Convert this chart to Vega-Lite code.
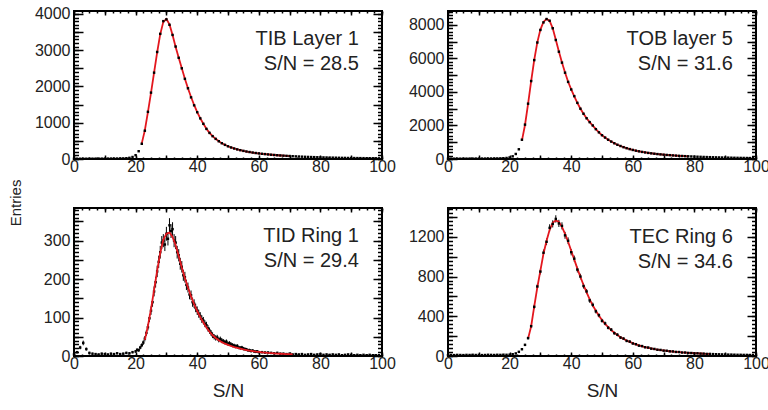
{
  "$schema": "https://vega.github.io/schema/vega-lite/v6.json",
  "padding": {"left": 9, "top": 5, "right": 5, "bottom": 5},
  "background": "white",
  "config": {
    "font": "Liberation Sans",
    "view": {"stroke": null},
    "axis": {"domain": false, "grid": false, "ticks": true, "zindex": 3, "tickColor": "black", "tickWidth": 1.5, "labelColor": "#222", "labelFont": "Liberation Sans", "labelFontSize": 16, "titleFont": "Liberation Sans", "titleFontSize": 19, "titleFontWeight": "normal", "titleColor": "#222", "labelFlush": false, "labelOverlap": false}
  },
  "title": {"text": "Entries", "orient": "left", "anchor": "middle", "fontSize": 15, "fontWeight": "normal", "font": "Liberation Sans", "color": "#222", "offset": 10},
  "datasets": {
    "tib": [
      {"u":0,"n":6},{"u":1,"n":8},{"u":2,"n":7},{"u":3,"n":9},{"u":4,"n":8},{"u":5,"n":10},{"u":6,"n":9},{"u":7,"n":10},{"u":8,"n":11},{"u":9,"n":10},
      {"u":10,"n":12},{"u":11,"n":11},{"u":12,"n":12},{"u":13,"n":13},{"u":14,"n":13},{"u":15,"n":15},{"u":16,"n":17},{"u":17,"n":22},{"u":18,"n":32},{"u":19,"n":55},
      {"u":20,"n":105},{"u":21,"n":215},{"u":22,"n":420,"fit":430},{"u":23,"n":780,"fit":790},{"u":24,"n":1300,"fit":1290},{"u":25,"n":1830,"fit":1820},{"u":26,"n":2380,"fit":2380},{"u":27,"n":2950,"fit":2940},{"u":28,"n":3450,"fit":3440},{"u":29,"n":3800,"fit":3780},
      {"u":30,"n":3850,"fit":3860},{"u":31,"n":3700,"fit":3710},{"u":32,"n":3420,"fit":3420},{"u":33,"n":3100,"fit":3090},{"u":34,"n":2790,"fit":2790},{"u":35,"n":2500,"fit":2500},{"u":36,"n":2210,"fit":2210},{"u":37,"n":1950,"fit":1950},{"u":38,"n":1700,"fit":1710},{"u":39,"n":1480,"fit":1490},
      {"u":40,"n":1290,"fit":1290},{"u":41,"n":1120,"fit":1120},{"u":42,"n":970,"fit":970},{"u":43,"n":830,"fit":835},{"u":44,"n":720,"fit":722},{"u":45,"n":630,"fit":632},{"u":46,"n":555,"fit":556},{"u":47,"n":490,"fit":491},{"u":48,"n":435,"fit":436},{"u":49,"n":390,"fit":391},
      {"u":50,"n":350,"fit":351},{"u":51,"n":318,"fit":318},{"u":52,"n":290,"fit":289},{"u":53,"n":265,"fit":264},{"u":54,"n":243,"fit":242},{"u":55,"n":224,"fit":223},{"u":56,"n":207,"fit":206},{"u":57,"n":192,"fit":191},{"u":58,"n":178,"fit":177},{"u":59,"n":165,"fit":164},
      {"u":60,"n":154,"fit":153},{"u":61,"n":144,"fit":143},{"u":62,"n":135,"fit":134},{"u":63,"n":126,"fit":125},{"u":64,"n":118,"fit":117},{"u":65,"n":111,"fit":110},{"u":66,"n":104,"fit":103},{"u":67,"n":98,"fit":97},{"u":68,"n":92,"fit":91},{"u":69,"n":87,"fit":86},
      {"u":70,"n":82,"fit":81},{"u":71,"n":77},{"u":72,"n":72},{"u":73,"n":68},{"u":74,"n":64},{"u":75,"n":60},{"u":76,"n":57},{"u":77,"n":54},{"u":78,"n":51},{"u":79,"n":48},
      {"u":80,"n":45},{"u":81,"n":43},{"u":82,"n":41},{"u":83,"n":39},{"u":84,"n":37},{"u":85,"n":35},{"u":86,"n":33},{"u":87,"n":31},{"u":88,"n":30},{"u":89,"n":28},
      {"u":90,"n":27},{"u":91,"n":26},{"u":92,"n":25},{"u":93,"n":24},{"u":94,"n":23},{"u":95,"n":22},{"u":96,"n":21},{"u":97,"n":20},{"u":98,"n":19},{"u":99,"n":18}
    ],
    "tob": [
      {"u":0,"n":15},{"u":1,"n":18},{"u":2,"n":20},{"u":3,"n":22},{"u":4,"n":20},{"u":5,"n":24},{"u":6,"n":22},{"u":7,"n":25},{"u":8,"n":24},{"u":9,"n":26},
      {"u":10,"n":25},{"u":11,"n":27},{"u":12,"n":26},{"u":13,"n":28},{"u":14,"n":30},{"u":15,"n":30},{"u":16,"n":34},{"u":17,"n":38},{"u":18,"n":45},{"u":19,"n":60},
      {"u":20,"n":90},{"u":21,"n":160},{"u":22,"n":300},{"u":23,"n":580},{"u":24,"n":1150,"fit":1100},{"u":25,"n":2050,"fit":2030},{"u":26,"n":3300,"fit":3290},{"u":27,"n":4650,"fit":4640},{"u":28,"n":5900,"fit":5910},{"u":29,"n":6950,"fit":6960},
      {"u":30,"n":7700,"fit":7720},{"u":31,"n":8150,"fit":8180},{"u":32,"n":8350,"fit":8360},{"u":33,"n":8250,"fit":8240},{"u":34,"n":7800,"fit":7800},{"u":35,"n":7100,"fit":7110},{"u":36,"n":6400,"fit":6410},{"u":37,"n":5750,"fit":5760},{"u":38,"n":5150,"fit":5160},{"u":39,"n":4600,"fit":4610},
      {"u":40,"n":4150,"fit":4150},{"u":41,"n":3750,"fit":3740},{"u":42,"n":3350,"fit":3350},{"u":43,"n":3000,"fit":3000},{"u":44,"n":2700,"fit":2700},{"u":45,"n":2430,"fit":2430},{"u":46,"n":2200,"fit":2200},{"u":47,"n":2000,"fit":1990},{"u":48,"n":1780,"fit":1780},{"u":49,"n":1590,"fit":1590},
      {"u":50,"n":1420,"fit":1420},{"u":51,"n":1280,"fit":1280},{"u":52,"n":1150,"fit":1150},{"u":53,"n":1040,"fit":1040},{"u":54,"n":940,"fit":940},{"u":55,"n":850,"fit":852},{"u":56,"n":775,"fit":775},{"u":57,"n":705,"fit":706},{"u":58,"n":645,"fit":645},{"u":59,"n":590,"fit":590},
      {"u":60,"n":540,"fit":541},{"u":61,"n":497,"fit":497},{"u":62,"n":458,"fit":458},{"u":63,"n":423,"fit":423},{"u":64,"n":392,"fit":392},{"u":65,"n":364,"fit":364},{"u":66,"n":338,"fit":338},{"u":67,"n":315,"fit":315},{"u":68,"n":294,"fit":294},{"u":69,"n":275,"fit":275},
      {"u":70,"n":258,"fit":258},{"u":71,"n":242,"fit":242},{"u":72,"n":228,"fit":228},{"u":73,"n":214,"fit":214},{"u":74,"n":202,"fit":202},{"u":75,"n":190,"fit":190},{"u":76,"n":179,"fit":179},{"u":77,"n":169,"fit":169},{"u":78,"n":160,"fit":160},{"u":79,"n":151},
      {"u":80,"n":143},{"u":81,"n":135},{"u":82,"n":128},{"u":83,"n":121},{"u":84,"n":115},{"u":85,"n":109},{"u":86,"n":103},{"u":87,"n":98},{"u":88,"n":93},{"u":89,"n":88},
      {"u":90,"n":84},{"u":91,"n":80},{"u":92,"n":76},{"u":93,"n":72},{"u":94,"n":68},{"u":95,"n":65},{"u":96,"n":62},{"u":97,"n":59},{"u":98,"n":56},{"u":99,"n":53}
    ],
    "tid": [
      {"u":0,"n":4,"e":2},{"u":1,"n":10,"e":3},{"u":2,"n":22,"e":4.5},{"u":3,"n":34,"e":6},{"u":4,"n":18,"e":4},{"u":5,"n":8,"e":3},{"u":6,"n":6,"e":2.5},{"u":7,"n":5,"e":2.5},{"u":8,"n":4,"e":2},{"u":9,"n":6,"e":2.5},
      {"u":10,"n":5,"e":2.5},{"u":11,"n":4,"e":2},{"u":12,"n":6,"e":2.5},{"u":13,"n":5,"e":2.5},{"u":14,"n":7,"e":2.5},{"u":15,"n":5,"e":2.5},{"u":16,"n":6,"e":2.5},{"u":17,"n":8,"e":3},{"u":18,"n":7,"e":2.5},{"u":19,"n":10,"e":3},
      {"u":20,"n":12,"e":3.5},{"u":20.5,"n":16,"e":4},{"u":21,"n":15,"e":4},{"u":21.5,"n":22,"e":4.5},{"u":22,"n":28,"e":5},{"u":22.5,"n":35,"e":6},{"u":23,"n":45,"e":7,"fit":42},{"u":23.5,"n":60,"e":7.5},{"u":24,"n":75,"e":8.5,"fit":78},{"u":24.5,"n":98,"e":10},
      {"u":25,"n":118,"e":11,"fit":122},{"u":25.5,"n":140,"e":12},{"u":26,"n":168,"e":13,"fit":172},{"u":26.5,"n":192,"e":14},{"u":27,"n":220,"e":15,"fit":222},{"u":27.5,"n":245,"e":16},{"u":28,"n":270,"e":16.5,"fit":268},{"u":28.5,"n":295,"e":17},{"u":29,"n":300,"e":17,"fit":302},{"u":29.5,"n":290,"e":17},
      {"u":30,"n":318,"e":18,"fit":318},{"u":30.5,"n":305,"e":17.5},{"u":31,"n":340,"e":18.5,"fit":321},{"u":31.5,"n":325,"e":18},{"u":32,"n":330,"e":18,"fit":310},{"u":32.5,"n":300,"e":17},{"u":33,"n":295,"e":17,"fit":288},{"u":33.5,"n":270,"e":16.5},{"u":34,"n":262,"e":16,"fit":260},{"u":34.5,"n":240,"e":15.5},
      {"u":35,"n":232,"e":15,"fit":230},{"u":35.5,"n":210,"e":14.5},{"u":36,"n":205,"e":14,"fit":203},{"u":36.5,"n":185,"e":13.5},{"u":37,"n":178,"e":13,"fit":178},{"u":37.5,"n":160,"e":12.5},{"u":38,"n":158,"e":12.5,"fit":155},{"u":38.5,"n":140,"e":12},{"u":39,"n":136,"e":11.5,"fit":135},{"u":39.5,"n":125,"e":11},
      {"u":40,"n":118,"e":11,"fit":117},{"u":40.5,"n":110,"e":10.5},{"u":41,"n":104,"e":10,"fit":101},{"u":41.5,"n":96,"e":10},{"u":42,"n":92,"e":9.5,"fit":87},{"u":42.5,"n":84,"e":9},{"u":43,"n":80,"e":9,"fit":74},{"u":43.5,"n":72,"e":8.5},{"u":44,"n":66,"e":8,"fit":63},{"u":44.5,"n":60,"e":7.5},
      {"u":45,"n":54,"e":7.5,"fit":54},{"u":45.5,"n":50,"e":7},{"u":46,"n":47,"e":7,"fit":47},{"u":46.5,"n":48,"e":7},{"u":47,"n":42,"e":6.5,"fit":41},{"u":47.5,"n":44,"e":6.5},{"u":48,"n":40,"e":6.5,"fit":36},{"u":48.5,"n":38,"e":6},{"u":49,"n":36,"e":6,"fit":32},{"u":49.5,"n":37,"e":6},
      {"u":50,"n":32,"e":5.5,"fit":29},{"u":50.5,"n":33,"e":5.5},{"u":51,"n":30,"e":5.5,"fit":26},{"u":51.5,"n":28,"e":5.5},{"u":52,"n":27,"e":5,"fit":23},{"u":52.5,"n":25,"e":5},{"u":53,"n":26,"e":5,"fit":21},{"u":53.5,"n":22,"e":4.5},{"u":54,"n":21,"e":4.5,"fit":19},{"u":54.5,"n":22,"e":4.5},
      {"u":55,"n":19,"e":4.5,"fit":17},{"u":55.5,"n":18,"e":4},{"u":56,"n":17,"e":4,"fit":15.5},{"u":56.5,"n":15,"e":4},{"u":57,"n":15,"e":4,"fit":14},{"u":57.5,"n":13,"e":3.5},{"u":58,"n":14,"e":3.5,"fit":12.7},{"u":58.5,"n":12,"e":3.5},{"u":59,"n":11,"e":3.5,"fit":11.5},{"u":59.5,"n":12,"e":3.5},
      {"u":60,"n":10,"e":3,"fit":10.5},{"u":61,"n":10,"e":3,"fit":9.6},{"u":62,"n":9,"e":3,"fit":8.8},{"u":63,"n":9,"e":3,"fit":8},{"u":64,"n":8,"e":3,"fit":7.4},{"u":65,"n":7,"e":2.5,"fit":6.8},{"u":66,"n":8,"e":3,"fit":6.3},{"u":67,"n":6,"e":2.5,"fit":5.8},{"u":68,"n":6,"e":2.5,"fit":5.4},{"u":69,"n":5,"e":2.5,"fit":5},
      {"u":70,"n":6,"e":2.5,"fit":4.6},{"u":71,"n":4,"e":2,"fit":4.3},{"u":72,"n":5,"e":2.5},{"u":73,"n":4,"e":2},{"u":74,"n":5,"e":2.5},{"u":75,"n":3,"e":2},{"u":76,"n":4,"e":2},{"u":77,"n":5,"e":2.5},{"u":78,"n":3,"e":2},{"u":79,"n":4,"e":2},
      {"u":80,"n":5,"e":2.5},{"u":81,"n":3,"e":2},{"u":82,"n":4,"e":2},{"u":83,"n":3,"e":2},{"u":84,"n":4,"e":2},{"u":85,"n":3,"e":2},{"u":86,"n":4,"e":2},{"u":87,"n":2,"e":1.5},{"u":88,"n":3,"e":2},{"u":89,"n":4,"e":2},
      {"u":90,"n":3,"e":2},{"u":91,"n":2,"e":1.5},{"u":92,"n":3,"e":2},{"u":93,"n":2,"e":1.5},{"u":94,"n":3,"e":2},{"u":95,"n":2,"e":1.5},{"u":96,"n":3,"e":2},{"u":97,"n":2,"e":1.5},{"u":98,"n":2,"e":1.5},{"u":99,"n":2,"e":1.5}
    ],
    "tec": [
      {"u":0,"n":8,"e":3},{"u":1,"n":10,"e":3},{"u":2,"n":9,"e":3},{"u":3,"n":11,"e":3.5},{"u":4,"n":10,"e":3},{"u":5,"n":9,"e":3},{"u":6,"n":11,"e":3.5},{"u":7,"n":10,"e":3},{"u":8,"n":12,"e":3.5},{"u":9,"n":10,"e":3},
      {"u":10,"n":11,"e":3.5},{"u":11,"n":9,"e":3},{"u":12,"n":10,"e":3},{"u":13,"n":12,"e":3.5},{"u":14,"n":11,"e":3.5},{"u":15,"n":10,"e":3},{"u":16,"n":12,"e":3.5},{"u":17,"n":11,"e":3.5},{"u":18,"n":13,"e":3.5},{"u":19,"n":12,"e":3.5},
      {"u":20,"n":14,"e":3.5},{"u":21,"n":18,"e":4},{"u":22,"n":26,"e":5},{"u":23,"n":42,"e":6.5},{"u":24,"n":68,"e":8},{"u":25,"n":112,"e":10.5},{"u":26,"n":180,"e":13,"fit":175},{"u":27,"n":300,"e":17,"fit":300},{"u":28,"n":495,"e":22,"fit":500},{"u":29,"n":700,"e":26,"fit":690},
      {"u":30,"n":850,"e":29,"fit":860},{"u":31,"n":1040,"e":32,"fit":1030},{"u":32,"n":1150,"e":34,"fit":1160},{"u":33,"n":1290,"e":36,"fit":1270},{"u":34,"n":1330,"e":36,"fit":1340},{"u":35,"n":1380,"e":37,"fit":1365},{"u":36,"n":1335,"e":36,"fit":1350},{"u":37,"n":1310,"e":36,"fit":1300},{"u":38,"n":1215,"e":35,"fit":1230},{"u":39,"n":1160,"e":34,"fit":1150},
      {"u":40,"n":1045,"e":32,"fit":1060},{"u":41,"n":980,"e":31,"fit":970},{"u":42,"n":870,"e":29,"fit":880},{"u":43,"n":800,"e":28,"fit":795},{"u":44,"n":705,"e":26,"fit":715},{"u":45,"n":650,"e":25,"fit":640},{"u":46,"n":560,"e":24,"fit":570},{"u":47,"n":515,"e":23,"fit":510},{"u":48,"n":450,"e":21,"fit":455},{"u":49,"n":410,"e":20,"fit":405},
      {"u":50,"n":355,"e":19,"fit":362},{"u":51,"n":328,"e":18,"fit":324},{"u":52,"n":285,"e":17,"fit":290},{"u":53,"n":265,"e":16,"fit":260},{"u":54,"n":230,"e":15,"fit":234},{"u":55,"n":214,"e":14.5,"fit":211},{"u":56,"n":186,"e":13.5,"fit":190},{"u":57,"n":175,"e":13,"fit":172},{"u":58,"n":152,"e":12,"fit":156},{"u":59,"n":145,"e":12,"fit":142},
      {"u":60,"n":126,"e":11,"fit":129},{"u":61,"n":119,"e":11,"fit":117},{"u":62,"n":104,"e":10,"fit":107},{"u":63,"n":100,"e":10,"fit":98},{"u":64,"n":88,"e":9.5,"fit":90},{"u":65,"n":85,"e":9,"fit":83},{"u":66,"n":74,"e":8.5,"fit":76},{"u":67,"n":71,"e":8.5,"fit":70},{"u":68,"n":63,"e":8,"fit":65},{"u":69,"n":61,"e":8,"fit":60},
      {"u":70,"n":54,"e":7.5,"fit":56},{"u":71,"n":53,"e":7.5,"fit":52},{"u":72,"n":47,"e":7,"fit":48},{"u":73,"n":46,"e":7,"fit":45},{"u":74,"n":41,"e":6.5,"fit":42},{"u":75,"n":40,"e":6.5,"fit":39},{"u":76,"n":35,"e":6,"fit":36},{"u":77,"n":35,"e":6,"fit":34},{"u":78,"n":31,"e":5.5,"fit":32},{"u":79,"n":30,"e":5.5,"fit":30},
      {"u":80,"n":27,"e":5,"fit":28},{"u":81,"n":27,"e":5,"fit":26},{"u":82,"n":24,"e":5,"fit":25},{"u":83,"n":24,"e":5,"fit":23},{"u":84,"n":21,"e":4.5,"fit":22},{"u":85,"n":21,"e":4.5,"fit":21},{"u":86,"n":19,"e":4.5},{"u":87,"n":18,"e":4},{"u":88,"n":17,"e":4},{"u":89,"n":16,"e":4},
      {"u":90,"n":15,"e":4},{"u":91,"n":14,"e":3.5},{"u":92,"n":14,"e":3.5},{"u":93,"n":13,"e":3.5},{"u":94,"n":12,"e":3.5},{"u":95,"n":12,"e":3.5},{"u":96,"n":11,"e":3.5},{"u":97,"n":11,"e":3.5},{"u":98,"n":10,"e":3},{"u":99,"n":10,"e":3}
    ],
    "frame": [{"k": 1}]
  },
  "bounds": "flush",
  "columns": 2,
  "spacing": {"row": 49, "column": 66},
  "concat": [
        {
          "width": 308, "height": 148,
          "data": {"name": "tib"},
          "resolve": {"axis": {"x": "independent", "y": "independent"}},
          "layer": [
            {
              "mark": {"type": "line", "color": "#e3171e", "strokeWidth": 1.8, "invalid": "filter"},
              "encoding": {
                "x": {"field": "u", "type": "quantitative", "scale": {"domain": [0, 100], "nice": false, "zero": false},
                      "axis": {"orient": "bottom", "values": [0,2.5,5,7.5,10,12.5,15,17.5,20,22.5,25,27.5,30,32.5,35,37.5,40,42.5,45,47.5,50,52.5,55,57.5,60,62.5,65,67.5,70,72.5,75,77.5,80,82.5,85,87.5,90,92.5,95,97.5,100], "tickSize": -2, "labels": false, "title": null}},
                "y": {"field": "fit", "type": "quantitative", "scale": {"domain": [0, 4080], "nice": false},
                      "axis": {"orient": "left", "values": [0,100,200,300,400,500,600,700,800,900,1000,1100,1200,1300,1400,1500,1600,1700,1800,1900,2000,2100,2200,2300,2400,2500,2600,2700,2800,2900,3000,3100,3200,3300,3400,3500,3600,3700,3800,3900,4000], "tickSize": -4.5, "labels": false, "title": null}}
              }
            },
            {
              "mark": {"type": "square", "color": "black", "size": 6, "opacity": 1},
              "encoding": {
                "x": {"field": "u", "type": "quantitative",
                      "axis": {"orient": "bottom", "values": [0,10,20,30,40,50,60,70,80,90,100], "tickSize": -4, "labelPadding": 3, "labelExpr": "datum.value % 20 === 0 ? datum.label : ''", "title": null}},
                "y": {"field": "n", "type": "quantitative",
                      "axis": {"orient": "left", "values": [0,500,1000,1500,2000,2500,3000,3500,4000], "tickSize": -9, "labelPadding": 13, "format": "d", "labelExpr": "datum.value % 1000 === 0 ? datum.label : ''", "title": null}}
              }
            },
            {
              "data": {"name": "frame"},
              "mark": {"type": "rect", "fill": null, "fillOpacity": 0, "stroke": "black", "strokeWidth": 2},
              "encoding": {
                "x": {"datum": 0, "type": "quantitative", "axis": {"orient": "top", "values": [0,10,20,30,40,50,60,70,80,90,100], "tickSize": -4, "labels": false, "title": null}},
                "x2": {"datum": 100},
                "y": {"datum": 0, "type": "quantitative", "axis": {"orient": "right", "values": [0,500,1000,1500,2000,2500,3000,3500,4000], "tickSize": -9, "labels": false, "title": null}},
                "y2": {"datum": 4080}
              }
            },
            {
              "data": {"values": [{"label": "TIB Layer 1\nS/N = 28.5"}]},
              "mark": {"type": "text", "align": "right", "baseline": "alphabetic", "fontSize": 20, "lineBreak": "\n", "lineHeight": 25, "color": "#222"},
              "encoding": {
                "x": {"datum": 92.5, "type": "quantitative", "axis": {"orient": "top", "values": [0,2.5,5,7.5,10,12.5,15,17.5,20,22.5,25,27.5,30,32.5,35,37.5,40,42.5,45,47.5,50,52.5,55,57.5,60,62.5,65,67.5,70,72.5,75,77.5,80,82.5,85,87.5,90,92.5,95,97.5,100], "tickSize": -2, "labels": false, "title": null}},
                "y": {"datum": 3136, "type": "quantitative", "axis": {"orient": "right", "values": [0,100,200,300,400,500,600,700,800,900,1000,1100,1200,1300,1400,1500,1600,1700,1800,1900,2000,2100,2200,2300,2400,2500,2600,2700,2800,2900,3000,3100,3200,3300,3400,3500,3600,3700,3800,3900,4000], "tickSize": -4.5, "labels": false, "title": null}},
                "text": {"field": "label"}
              }
            }
          ]
        },
        {
          "width": 308, "height": 148,
          "data": {"name": "tob"},
          "resolve": {"axis": {"x": "independent", "y": "independent"}},
          "layer": [
            {
              "mark": {"type": "line", "color": "#e3171e", "strokeWidth": 1.8, "invalid": "filter"},
              "encoding": {
                "x": {"field": "u", "type": "quantitative", "scale": {"domain": [0, 100], "nice": false, "zero": false},
                      "axis": {"orient": "bottom", "values": [0,2.5,5,7.5,10,12.5,15,17.5,20,22.5,25,27.5,30,32.5,35,37.5,40,42.5,45,47.5,50,52.5,55,57.5,60,62.5,65,67.5,70,72.5,75,77.5,80,82.5,85,87.5,90,92.5,95,97.5,100], "tickSize": -2, "labels": false, "title": null}},
                "y": {"field": "fit", "type": "quantitative", "scale": {"domain": [0, 8830], "nice": false},
                      "axis": {"orient": "left", "values": [0,200,400,600,800,1000,1200,1400,1600,1800,2000,2200,2400,2600,2800,3000,3200,3400,3600,3800,4000,4200,4400,4600,4800,5000,5200,5400,5600,5800,6000,6200,6400,6600,6800,7000,7200,7400,7600,7800,8000,8200,8400,8600,8800], "tickSize": -4.5, "labels": false, "title": null}}
              }
            },
            {
              "mark": {"type": "square", "color": "black", "size": 6, "opacity": 1},
              "encoding": {
                "x": {"field": "u", "type": "quantitative",
                      "axis": {"orient": "bottom", "values": [0,10,20,30,40,50,60,70,80,90,100], "tickSize": -4, "labelPadding": 3, "labelExpr": "datum.value % 20 === 0 ? datum.label : ''", "title": null}},
                "y": {"field": "n", "type": "quantitative",
                      "axis": {"orient": "left", "values": [0,1000,2000,3000,4000,5000,6000,7000,8000], "tickSize": -9, "labelPadding": 13, "format": "d", "labelExpr": "datum.value % 2000 === 0 ? datum.label : ''", "title": null}}
              }
            },
            {
              "data": {"name": "frame"},
              "mark": {"type": "rect", "fill": null, "fillOpacity": 0, "stroke": "black", "strokeWidth": 2},
              "encoding": {
                "x": {"datum": 0, "type": "quantitative", "axis": {"orient": "top", "values": [0,10,20,30,40,50,60,70,80,90,100], "tickSize": -4, "labels": false, "title": null}},
                "x2": {"datum": 100},
                "y": {"datum": 0, "type": "quantitative", "axis": {"orient": "right", "values": [0,1000,2000,3000,4000,5000,6000,7000,8000], "tickSize": -9, "labels": false, "title": null}},
                "y2": {"datum": 8830}
              }
            },
            {
              "data": {"values": [{"label": "TOB layer 5\nS/N = 31.6"}]},
              "mark": {"type": "text", "align": "right", "baseline": "alphabetic", "fontSize": 20, "lineBreak": "\n", "lineHeight": 25, "color": "#222"},
              "encoding": {
                "x": {"datum": 92.5, "type": "quantitative", "axis": {"orient": "top", "values": [0,2.5,5,7.5,10,12.5,15,17.5,20,22.5,25,27.5,30,32.5,35,37.5,40,42.5,45,47.5,50,52.5,55,57.5,60,62.5,65,67.5,70,72.5,75,77.5,80,82.5,85,87.5,90,92.5,95,97.5,100], "tickSize": -2, "labels": false, "title": null}},
                "y": {"datum": 6815, "type": "quantitative", "axis": {"orient": "right", "values": [0,200,400,600,800,1000,1200,1400,1600,1800,2000,2200,2400,2600,2800,3000,3200,3400,3600,3800,4000,4200,4400,4600,4800,5000,5200,5400,5600,5800,6000,6200,6400,6600,6800,7000,7200,7400,7600,7800,8000,8200,8400,8600,8800], "tickSize": -4.5, "labels": false, "title": null}},
                "text": {"field": "label"}
              }
            }
          ]
        },
        {
          "width": 308, "height": 148,
          "data": {"name": "tid"},
          "resolve": {"axis": {"x": "independent", "y": "independent"}},
          "layer": [
            {
              "mark": {"type": "errorbar", "color": "black", "thickness": 1},
              "encoding": {
                "x": {"field": "u", "type": "quantitative", "scale": {"domain": [0, 100], "nice": false, "zero": false}, "axis": null},
                "y": {"field": "n", "type": "quantitative", "scale": {"domain": [0, 385], "nice": false}, "axis": null},
                "yError": {"field": "e"}
              }
            },
            {
              "mark": {"type": "square", "color": "black", "size": 6, "opacity": 1},
              "encoding": {
                "x": {"field": "u", "type": "quantitative",
                      "axis": {"orient": "bottom", "values": [0,10,20,30,40,50,60,70,80,90,100], "tickSize": -4, "labelPadding": 3, "labelExpr": "datum.value % 20 === 0 ? datum.label : ''", "title": "S/N", "titlePadding": 10}},
                "y": {"field": "n", "type": "quantitative",
                      "axis": {"orient": "left", "values": [0,50,100,150,200,250,300,350], "tickSize": -9, "labelPadding": 13, "format": "d", "labelExpr": "datum.value % 100 === 0 ? datum.label : ''", "title": null}}
              }
            },
            {
              "mark": {"type": "line", "color": "#e3171e", "strokeWidth": 1.8, "invalid": "filter"},
              "encoding": {
                "x": {"field": "u", "type": "quantitative",
                      "axis": {"orient": "bottom", "values": [0,2.5,5,7.5,10,12.5,15,17.5,20,22.5,25,27.5,30,32.5,35,37.5,40,42.5,45,47.5,50,52.5,55,57.5,60,62.5,65,67.5,70,72.5,75,77.5,80,82.5,85,87.5,90,92.5,95,97.5,100], "tickSize": -2, "labels": false, "title": null}},
                "y": {"field": "fit", "type": "quantitative",
                      "axis": {"orient": "left", "values": [0,10,20,30,40,50,60,70,80,90,100,110,120,130,140,150,160,170,180,190,200,210,220,230,240,250,260,270,280,290,300,310,320,330,340,350,360,370,380], "tickSize": -4.5, "labels": false, "title": null}}
              }
            },
            {
              "data": {"name": "frame"},
              "mark": {"type": "rect", "fill": null, "fillOpacity": 0, "stroke": "black", "strokeWidth": 2},
              "encoding": {
                "x": {"datum": 0, "type": "quantitative", "axis": {"orient": "top", "values": [0,10,20,30,40,50,60,70,80,90,100], "tickSize": -4, "labels": false, "title": null}},
                "x2": {"datum": 100},
                "y": {"datum": 0, "type": "quantitative", "axis": {"orient": "right", "values": [0,50,100,150,200,250,300,350], "tickSize": -9, "labels": false, "title": null}},
                "y2": {"datum": 385}
              }
            },
            {
              "data": {"values": [{"label": "TID Ring 1\nS/N = 29.4"}]},
              "mark": {"type": "text", "align": "right", "baseline": "alphabetic", "fontSize": 20, "lineBreak": "\n", "lineHeight": 25, "color": "#222"},
              "encoding": {
                "x": {"datum": 92.5, "type": "quantitative", "axis": {"orient": "top", "values": [0,2.5,5,7.5,10,12.5,15,17.5,20,22.5,25,27.5,30,32.5,35,37.5,40,42.5,45,47.5,50,52.5,55,57.5,60,62.5,65,67.5,70,72.5,75,77.5,80,82.5,85,87.5,90,92.5,95,97.5,100], "tickSize": -2, "labels": false, "title": null}},
                "y": {"datum": 297, "type": "quantitative", "axis": {"orient": "right", "values": [0,10,20,30,40,50,60,70,80,90,100,110,120,130,140,150,160,170,180,190,200,210,220,230,240,250,260,270,280,290,300,310,320,330,340,350,360,370,380], "tickSize": -4.5, "labels": false, "title": null}},
                "text": {"field": "label"}
              }
            }
          ]
        },
        {
          "width": 308, "height": 148,
          "data": {"name": "tec"},
          "resolve": {"axis": {"x": "independent", "y": "independent"}},
          "layer": [
            {
              "mark": {"type": "errorbar", "color": "black", "thickness": 1},
              "encoding": {
                "x": {"field": "u", "type": "quantitative", "scale": {"domain": [0, 100], "nice": false, "zero": false}, "axis": null},
                "y": {"field": "n", "type": "quantitative", "scale": {"domain": [0, 1490], "nice": false}, "axis": null},
                "yError": {"field": "e"}
              }
            },
            {
              "mark": {"type": "line", "color": "#e3171e", "strokeWidth": 1.8, "invalid": "filter"},
              "encoding": {
                "x": {"field": "u", "type": "quantitative",
                      "axis": {"orient": "bottom", "values": [0,2.5,5,7.5,10,12.5,15,17.5,20,22.5,25,27.5,30,32.5,35,37.5,40,42.5,45,47.5,50,52.5,55,57.5,60,62.5,65,67.5,70,72.5,75,77.5,80,82.5,85,87.5,90,92.5,95,97.5,100], "tickSize": -2, "labels": false, "title": null}},
                "y": {"field": "fit", "type": "quantitative",
                      "axis": {"orient": "left", "values": [0,40,80,120,160,200,240,280,320,360,400,440,480,520,560,600,640,680,720,760,800,840,880,920,960,1000,1040,1080,1120,1160,1200,1240,1280,1320,1360,1400,1440,1480], "tickSize": -4.5, "labels": false, "title": null}}
              }
            },
            {
              "mark": {"type": "square", "color": "black", "size": 6, "opacity": 1},
              "encoding": {
                "x": {"field": "u", "type": "quantitative",
                      "axis": {"orient": "bottom", "values": [0,10,20,30,40,50,60,70,80,90,100], "tickSize": -4, "labelPadding": 3, "labelExpr": "datum.value % 20 === 0 ? datum.label : ''", "title": "S/N", "titlePadding": 10}},
                "y": {"field": "n", "type": "quantitative",
                      "axis": {"orient": "left", "values": [0,200,400,600,800,1000,1200,1400], "tickSize": -9, "labelPadding": 13, "format": "d", "labelExpr": "datum.value % 400 === 0 ? datum.label : ''", "title": null}}
              }
            },
            {
              "data": {"name": "frame"},
              "mark": {"type": "rect", "fill": null, "fillOpacity": 0, "stroke": "black", "strokeWidth": 2},
              "encoding": {
                "x": {"datum": 0, "type": "quantitative", "axis": {"orient": "top", "values": [0,10,20,30,40,50,60,70,80,90,100], "tickSize": -4, "labels": false, "title": null}},
                "x2": {"datum": 100},
                "y": {"datum": 0, "type": "quantitative", "axis": {"orient": "right", "values": [0,200,400,600,800,1000,1200,1400], "tickSize": -9, "labels": false, "title": null}},
                "y2": {"datum": 1490}
              }
            },
            {
              "data": {"values": [{"label": "TEC Ring 6\nS/N = 34.6"}]},
              "mark": {"type": "text", "align": "right", "baseline": "alphabetic", "fontSize": 20, "lineBreak": "\n", "lineHeight": 25, "color": "#222"},
              "encoding": {
                "x": {"datum": 92.5, "type": "quantitative", "axis": {"orient": "top", "values": [0,2.5,5,7.5,10,12.5,15,17.5,20,22.5,25,27.5,30,32.5,35,37.5,40,42.5,45,47.5,50,52.5,55,57.5,60,62.5,65,67.5,70,72.5,75,77.5,80,82.5,85,87.5,90,92.5,95,97.5,100], "tickSize": -2, "labels": false, "title": null}},
                "y": {"datum": 1140, "type": "quantitative", "axis": {"orient": "right", "values": [0,40,80,120,160,200,240,280,320,360,400,440,480,520,560,600,640,680,720,760,800,840,880,920,960,1000,1040,1080,1120,1160,1200,1240,1280,1320,1360,1400,1440,1480], "tickSize": -4.5, "labels": false, "title": null}},
                "text": {"field": "label"}
              }
            }
          ]
        }
  ]
}
